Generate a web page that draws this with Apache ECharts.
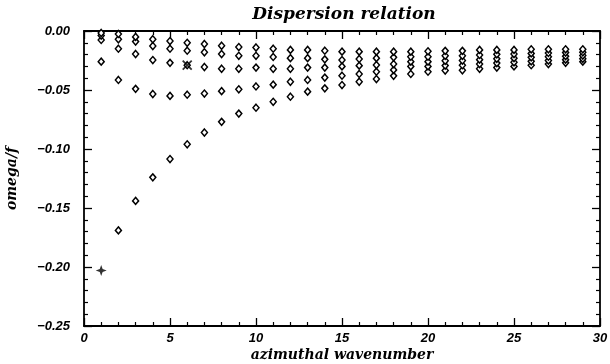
<!DOCTYPE html>
<html>
<head>
<meta charset="utf-8">
<script src="https://cdn.jsdelivr.net/npm/echarts@6/dist/echarts.min.js"></script>
<style>
  html, body { margin: 0; padding: 0; background: #fff; }
  #chart { width: 610px; height: 364px; }
</style>
</head>
<body>
<div id="chart"></div>
<script>
// azimuthal wavenumber 1..29
const wavenumber = [1, 2, 3, 4, 5, 6, 7, 8, 9, 10, 11, 12, 13, 14, 15, 16, 17, 18, 19, 20, 21, 22, 23, 24, 25, 26, 27, 28, 29]
// five branches, deepest first
const modeA = [null, -0.169, -0.144, -0.124, -0.1085, -0.096, -0.086, -0.077, -0.070, -0.065, -0.060, -0.0557, -0.0514, -0.0486, -0.0458, -0.043, -0.0407, -0.038, -0.0364, -0.0345, -0.0335, -0.0333, -0.032, -0.031, -0.030, -0.029, -0.028, -0.027, -0.026]
const modeB = [-0.026, -0.0415, -0.049, -0.0534, -0.055, -0.054, -0.053, -0.051, -0.0494, -0.047, -0.0455, -0.043, -0.0415, -0.0395, -0.0379, -0.0364, -0.0345, -0.033, -0.030, -0.030, -0.0293, -0.029, -0.028, -0.0272, -0.0265, -0.0257, -0.025, -0.0243, -0.0235]
const modeC = [-0.0076, -0.015, -0.0195, -0.0246, -0.027, -0.029, -0.0305, -0.032, -0.032, -0.031, -0.032, -0.032, -0.031, -0.031, -0.030, -0.0294, -0.0288, -0.028, -0.026, -0.026, -0.0252, -0.025, -0.0243, -0.0236, -0.023, -0.0223, -0.0218, -0.0213, -0.0208]
const modeD = [-0.0038, -0.007, -0.009, -0.0127, -0.015, -0.0167, -0.018, -0.0195, -0.021, -0.021, -0.022, -0.023, -0.023, -0.024, -0.0246, -0.0237, -0.023, -0.0223, -0.0218, -0.0218, -0.021, -0.021, -0.0203, -0.0198, -0.0195, -0.019, -0.0186, -0.0183, -0.018]
const modeE = [-0.0017, -0.0025, -0.005, -0.007, -0.0085, -0.010, -0.011, -0.0125, -0.0136, -0.014, -0.015, -0.016, -0.016, -0.0167, -0.0175, -0.0175, -0.0175, -0.0175, -0.0175, -0.0172, -0.0168, -0.0168, -0.016, -0.016, -0.016, -0.0155, -0.0155, -0.0155, -0.0155]
// marked points
const starPoint = [1, -0.203]
const crossPoint = [6, -0.029]

const xTicks = [0, 5, 10, 15, 20, 25, 30]
const yTicks = [0, -0.05, -0.10, -0.15, -0.20, -0.25]

const labelFont = {
  color: '#000',
  fontFamily: 'Liberation Sans',
  fontStyle: 'italic',
  fontWeight: 'bold',
  fontSize: 13,
}
const nameFont = {
  color: '#000',
  fontFamily: 'DejaVu Serif',
  fontStyle: 'italic',
  fontWeight: 'bold',
  fontSize: 14,
}

function pairs(ys) {
  return wavenumber.map((x, i) => [x, ys[i]]).filter(p => p[1] !== null)
}

function diamondSeries(ys) {
  return {
    type: 'scatter',
    symbol: 'diamond',
    symbolSize: [6, 7],
    itemStyle: { color: '#fff', borderColor: '#000', borderWidth: 1.5, opacity: 1 },
    data: pairs(ys),
    silent: true,
  }
}

const boxAxisLine = { show: true, onZero: false, lineStyle: { color: '#000', width: 1.8 } }
const tick = { show: true, inside: true, length: 8, lineStyle: { color: '#000', width: 1.3 } }
const minor = { show: true, splitNumber: 5, length: 4, lineStyle: { color: '#000', width: 1.2, opacity: 1 } }

let myChart = echarts.init(document.getElementById('chart'))
var option = {
  animation: false,
  backgroundColor: '#fff',
  graphic: [
    {
      type: 'text',
      x: 344,
      y: 15,
      style: {
        text: 'Dispersion relation',
        align: 'center',
        verticalAlign: 'middle',
        fill: '#000',
        font: 'italic bold 17px "DejaVu Serif"',
      },
    },
  ],
  grid: { left: 84, right: 10, top: 31, bottom: 38, outerBoundsMode: 'none', containLabel: false },
  xAxis: [
    {
      type: 'value',
      min: xTicks[0],
      max: xTicks[xTicks.length - 1],
      interval: 5,
      position: 'bottom',
      name: 'azimuthal wavenumber',
      nameLocation: 'middle',
      nameGap: 22,
      nameMoveOverlap: false,
      nameTextStyle: nameFont,
      axisLine: boxAxisLine,
      axisTick: tick,
      minorTick: minor,
      splitLine: { show: false },
      axisLabel: Object.assign({ margin: 6 }, labelFont),
    },
    {
      type: 'value',
      min: xTicks[0],
      max: xTicks[xTicks.length - 1],
      interval: 5,
      position: 'top',
      axisLine: boxAxisLine,
      axisTick: tick,
      minorTick: minor,
      splitLine: { show: false },
      axisLabel: { show: false },
    },
  ],
  yAxis: [
    {
      type: 'value',
      min: yTicks[yTicks.length - 1],
      max: yTicks[0],
      interval: 0.05,
      position: 'left',
      name: 'omega/f',
      nameLocation: 'middle',
      nameGap: 65,
      nameMoveOverlap: false,
      nameRotate: 90,
      nameTextStyle: nameFont,
      axisLine: boxAxisLine,
      axisTick: tick,
      minorTick: minor,
      splitLine: { show: false },
      axisLabel: Object.assign({
        margin: 14,
        formatter: v => (v < 0 ? '\u2212' : '') + Math.abs(v).toFixed(2),
      }, labelFont),
    },
    {
      type: 'value',
      min: yTicks[yTicks.length - 1],
      max: yTicks[0],
      interval: 0.05,
      position: 'right',
      axisLine: boxAxisLine,
      axisTick: tick,
      minorTick: minor,
      splitLine: { show: false },
      axisLabel: { show: false },
    },
  ],
  series: [
    diamondSeries(modeA),
    diamondSeries(modeB),
    diamondSeries(modeC),
    diamondSeries(modeD),
    diamondSeries(modeE),
    {
      type: 'scatter',
      symbol: 'path://M0,-5 L1.3,-1.3 L5,0 L1.3,1.3 L0,5 L-1.3,1.3 L-5,0 L-1.3,-1.3 Z',
      symbolSize: 11,
      itemStyle: { color: '#000' },
      data: [starPoint],
      silent: true,
    },
    {
      type: 'scatter',
      symbol: 'path://M0,0 L10,10 M10,0 L0,10',
      symbolSize: 9,
      itemStyle: { color: 'none', borderColor: '#000', borderWidth: 1.8 },
      data: [crossPoint],
      silent: true,
    },
  ],
}
option && myChart.setOption(option)
</script>
</body>
</html>
